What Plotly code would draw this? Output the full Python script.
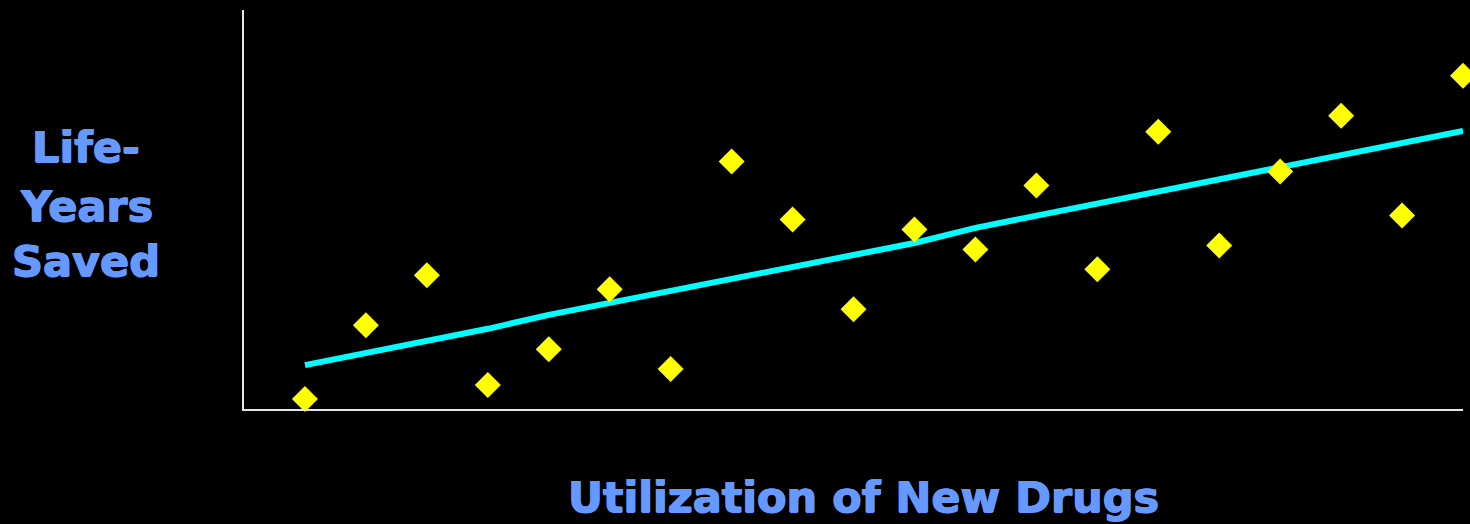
import plotly.graph_objects as go

x_vals = list(range(1, 21))
life_years = [2.5, 21, 33.5, 6, 15, 30, 10, 62, 47.5, 25, 45, 40, 56, 35, 69.5, 41, 59.5, 73.5, 48.5, 83.5]
trend = [11.0, 14.0, 17.0, 20.1, 23.6, 26.6, 29.6, 32.6, 35.6, 38.6, 41.6, 45.4, 48.4, 51.4, 54.4, 57.4, 60.7, 63.7, 66.7, 69.7]

y_label_lines = ["Life-", "Years", "Saved"]
x_label = "Utilization of New Drugs"

W, H = 1470, 524
ML, MR, MT, MB = 244, 7, 10, 115
PW, PH = W - ML - MR, H - MT - MB

def px_to_paper(px, py):
    return (px - ML) / PW, (H - MB - py) / PH

fig = go.Figure()
fig.add_trace(go.Scatter(
    x=x_vals, y=trend, mode="lines",
    line=dict(color="#00ffff", width=6),
    cliponaxis=False, hoverinfo="skip", showlegend=False,
))
fig.add_trace(go.Scatter(
    x=x_vals, y=life_years, mode="markers",
    marker=dict(symbol="diamond", size=20, color="#ffff00", line=dict(width=0)),
    cliponaxis=False, showlegend=False,
))

label_font = dict(family="DejaVu Sans", size=43, color="#6699ff", weight="bold",
                  shadow="0.7px 0 0 #6699ff, -0.7px 0 0 #6699ff, 0 0.5px 0 #6699ff")
annotations = []
for txt, cy in zip(y_label_lines, [147, 206, 261]):
    ax, ay = px_to_paper(86, cy)
    annotations.append(dict(text=txt, x=ax, y=ay, xref="paper", yref="paper",
                            xanchor="center", yanchor="middle", showarrow=False,
                            font=label_font))
bx, by = px_to_paper(863, 497)
annotations.append(dict(text=x_label, x=bx, y=by, xref="paper", yref="paper",
                        xanchor="center", yanchor="middle", showarrow=False,
                        font=label_font))

fig.update_layout(
    width=W, height=H,
    margin=dict(l=ML, r=MR, t=MT, b=MB),
    paper_bgcolor="#000000", plot_bgcolor="#000000",
    xaxis=dict(range=[0, 20], showline=True, linecolor="#e6e6e6", linewidth=2,
               showgrid=False, zeroline=False, showticklabels=False, ticks="",
               fixedrange=True),
    yaxis=dict(range=[0, 100], showline=True, linecolor="#e6e6e6", linewidth=2,
               showgrid=False, zeroline=False, showticklabels=False, ticks="",
               fixedrange=True),
    annotations=annotations,
)

fig.write_html("out.html", config=dict(displayModeBar=False))
